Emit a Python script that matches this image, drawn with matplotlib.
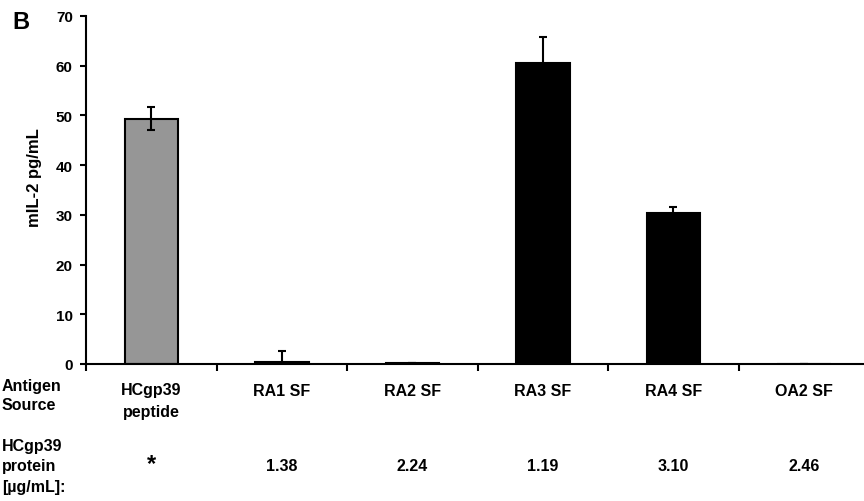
import matplotlib
matplotlib.use("Agg")
import matplotlib.pyplot as plt
import numpy as np

categories = ["HCgp39\npeptide", "RA1 SF", "RA2 SF", "RA3 SF", "RA4 SF", "OA2 SF"]
values = [49.3, 0.4, 0.3, 60.6, 30.3, 0.1]
errors = [2.3, 2.2, 0.0, 5.1, 1.3, 0.0]
colors = ["#969696", "black", "black", "black", "black", "black"]
protein = ["*", "1.38", "2.24", "1.19", "3.10", "2.46"]
yticks = [0, 10, 20, 30, 40, 50, 60, 70]
row_labels = [["Antigen", "Source"], ["HCgp39", "protein", "[µg/mL]:"]]

plt.rcParams['font.family'] = ['Liberation Sans', 'DejaVu Sans']
plt.rcParams['font.weight'] = 'bold'

W, H = 864, 502
fig = plt.figure(figsize=(W/100, H/100), dpi=100)
ax = fig.add_axes([86/W, 1-365/H, 1-86/W + 0.006, 348/H])
x = np.arange(len(categories))
ax.bar(x, values, width=0.41, color=colors, edgecolor="black", linewidth=1.5, zorder=2)
ax.errorbar(x, values, yerr=errors, fmt="none", ecolor="black", elinewidth=1.5,
            capsize=2.7, capthick=1.5, zorder=3)
ax.set_xlim(-0.5, 5.5)
ax.set_ylim(0, 70)
ax.set_yticks(yticks)
ax.set_yticklabels([str(t) for t in yticks], fontsize=11, fontweight="bold")
ax.set_xticks(np.arange(-0.5, 6.0, 1.0))
ax.set_xticklabels([])
ax.tick_params(axis="y", direction="out", length=4.5, width=1.5, pad=5)
ax.tick_params(axis="x", direction="out", length=5, width=1.5)
for s in ["top", "right"]:
    ax.spines[s].set_visible(False)
for s in ["left", "bottom"]:
    ax.spines[s].set_linewidth(1.5)
ax.set_ylabel("mIL-2 pg/mL", fontsize=12, fontweight="bold")
ax.yaxis.label.set_va("center")
ax.yaxis.set_label_coords((35-86)/778, (365-178)/348)

def px_to_fig_y(py):
    return 1 - py/H

FS = 11.5
for xi, lab in zip(x, categories):
    lines = lab.split("\n")
    for k, line in enumerate(lines):
        ax.text(xi, (365 - (395.5 + 21.5*k)) / 348, line, transform=ax.get_xaxis_transform(),
                ha="center", va="baseline", fontsize=FS, fontweight="bold")
for xi, p in zip(x, protein):
    fs = 17 if p == "*" else FS
    ax.text(xi, (365 - 471) / 348, p, transform=ax.get_xaxis_transform(), ha="center",
            va="baseline", fontsize=fs, fontweight="bold")

left_baselines = [[391, 410], [451, 471.5, 492]]
for lines, bls in zip(row_labels, left_baselines):
    for line, bl in zip(lines, bls):
        fig.text(2/W, px_to_fig_y(bl), line, ha="left", va="baseline", fontsize=FS,
                 fontweight="bold")
fig.text(12/W, px_to_fig_y(29.5), "B", ha="left", va="baseline", fontsize=17, fontweight="bold")

fig.savefig("out.png", dpi=100)
